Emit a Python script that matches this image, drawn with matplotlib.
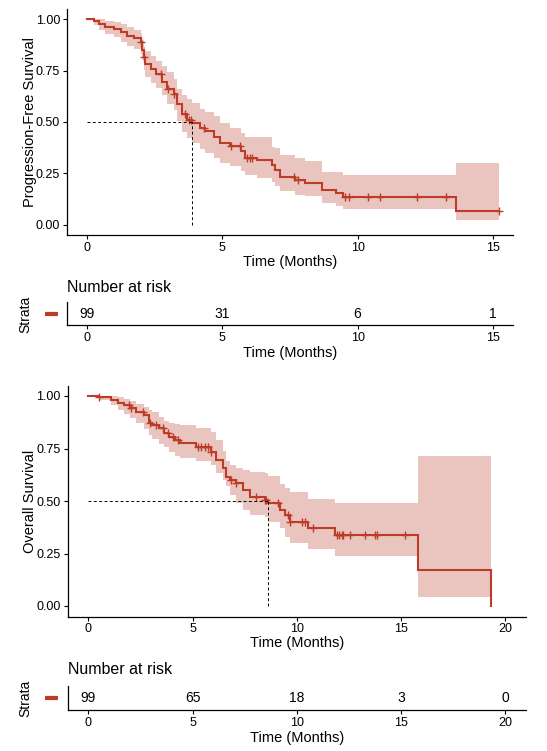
import matplotlib
matplotlib.use('Agg')
import matplotlib.pyplot as plt
import numpy as np

plt.rcParams['font.family'] = ['Liberation Sans', 'DejaVu Sans']

# ---------------- data ----------------
# Progression-free survival: step start times, survival, lower / upper CI
pfs_time = [0.00, 0.25, 0.43, 0.67, 0.98, 1.23, 1.47, 1.72, 1.97, 2.03, 2.09, 2.15,
            2.34, 2.55, 2.77, 2.95, 3.20, 3.32, 3.50, 3.69, 3.87, 4.18, 4.37, 4.67,
            4.92, 5.29, 5.67, 5.85, 6.27, 6.82, 6.95, 7.13, 7.69, 8.05, 8.67, 9.22,
            9.47, 13.65]
pfs_surv = [1.000, 0.990, 0.977, 0.964, 0.953, 0.937, 0.920, 0.909, 0.889, 0.850, 0.815, 0.783,
            0.758, 0.734, 0.693, 0.661, 0.637, 0.588, 0.540, 0.511, 0.494, 0.470, 0.454, 0.429,
            0.397, 0.381, 0.357, 0.324, 0.316, 0.292, 0.267, 0.232, 0.219, 0.203, 0.170, 0.154,
            0.135, 0.068]
pfs_lower = [1.000, 0.970, 0.950, 0.930, 0.912, 0.890, 0.870, 0.855, 0.830, 0.800, 0.755, 0.720,
             0.690, 0.665, 0.630, 0.590, 0.560, 0.505, 0.450, 0.420, 0.400, 0.370, 0.350, 0.325,
             0.300, 0.285, 0.260, 0.240, 0.225, 0.210, 0.190, 0.163, 0.146, 0.138, 0.105, 0.089,
             0.076, 0.021]
pfs_upper = [1.000, 1.000, 1.000, 0.990, 0.985, 0.975, 0.962, 0.950, 0.935, 0.900, 0.872, 0.847,
             0.823, 0.799, 0.774, 0.742, 0.710, 0.660, 0.630, 0.610, 0.591, 0.565, 0.551, 0.527,
             0.494, 0.470, 0.446, 0.429, 0.425, 0.380, 0.373, 0.340, 0.324, 0.308, 0.259, 0.259,
             0.243, 0.300]
pfs_end = 15.25
pfs_censor = [2.00, 2.10, 2.72, 2.97, 3.20, 3.63, 3.75, 3.85, 4.30, 5.30, 5.66, 5.92,
              6.03, 6.09, 7.63, 7.81, 9.53, 9.68, 10.39, 10.82, 12.18, 13.28, 15.25]
pfs_median = 3.87

# Overall survival
os_time = [0.00, 0.53, 1.09, 1.41, 1.73, 2.00, 2.29, 2.69, 2.93, 3.05, 3.41, 3.65,
           3.89, 4.15, 4.38, 5.18, 5.90, 6.14, 6.46, 6.62, 6.78, 7.10, 7.42, 7.74,
           8.46, 8.62, 9.18, 9.42, 9.66, 10.54, 11.83, 15.83]
os_surv = [1.000, 0.994, 0.981, 0.968, 0.957, 0.941, 0.925, 0.910, 0.870, 0.862, 0.846, 0.822,
           0.806, 0.790, 0.775, 0.756, 0.735, 0.695, 0.655, 0.616, 0.600, 0.584, 0.552, 0.520,
           0.505, 0.489, 0.457, 0.433, 0.401, 0.370, 0.338, 0.171]
os_lower = [1.000, 0.981, 0.955, 0.935, 0.915, 0.895, 0.870, 0.845, 0.815, 0.795, 0.770, 0.755,
            0.735, 0.715, 0.705, 0.690, 0.670, 0.635, 0.600, 0.570, 0.530, 0.490, 0.455, 0.435,
            0.425, 0.400, 0.370, 0.330, 0.300, 0.270, 0.238, 0.041]
os_upper = [1.000, 1.000, 1.000, 0.995, 0.985, 0.975, 0.960, 0.950, 0.935, 0.925, 0.900, 0.880,
            0.870, 0.865, 0.860, 0.850, 0.830, 0.790, 0.740, 0.690, 0.670, 0.655, 0.648, 0.640,
            0.635, 0.620, 0.580, 0.560, 0.545, 0.510, 0.489, 0.714]
os_end = 19.31
os_end_surv = 0.0
os_censor = [0.53, 1.97, 2.05, 2.61, 2.95, 3.25, 3.57, 3.81, 4.05, 4.29, 5.26, 5.42,
             5.58, 5.74, 5.90, 6.86, 7.10, 8.06, 8.46, 8.54, 9.10, 9.58, 9.66, 10.23,
             10.38, 10.78, 11.91, 12.04, 12.15, 12.23, 12.55, 13.27, 13.75, 13.86, 15.19]
os_median = 8.62

# Number at risk tables
pfs_risk_times = [0, 5, 10, 15]
pfs_risk = [99, 31, 6, 1]
os_risk_times = [0, 5, 10, 15, 20]
os_risk = [99, 65, 18, 3, 0]

RED = '#BC3C29'
W, H = 547, 751

fig = plt.figure(figsize=(W / 100, H / 100), dpi=100)
fig.patch.set_facecolor('white')


def px_axes(left, top, right, bottom):
    return fig.add_axes([left / W, 1 - bottom / H, (right - left) / W, (bottom - top) / H])


def style_axes(ax):
    for s in ['top', 'right']:
        ax.spines[s].set_visible(False)
    for s in ['left', 'bottom']:
        ax.spines[s].set_linewidth(0.9)
        ax.spines[s].set_color('black')
    ax.tick_params(direction='out', length=3, width=0.8, labelsize=9, pad=2, colors='black')
    ax.set_facecolor('white')


def draw_km(ax, t, s, lo, hi, end, end_s, cens, med, xlim, xticks):
    t = list(t)
    # CI band
    bx = t + [end]
    blo = list(lo) + [lo[-1]]
    bhi = list(hi) + [hi[-1]]
    ax.fill_between(bx, blo, bhi, step='post', color=RED, alpha=0.3, linewidth=0)
    # survival line
    lx = t + [end]
    ly = list(s) + [end_s]
    ax.step(lx, ly, where='post', color=RED, linewidth=1.5, solid_joinstyle='miter')
    # censor marks
    ta = np.array(t)
    sa = np.array(s)
    cy = [sa[np.searchsorted(ta, c, side='right') - 1] for c in cens]
    ax.plot(cens, cy, linestyle='none', marker='+', markersize=6, markeredgewidth=1.0, color=RED)
    # median lines
    ax.plot([0, med], [0.5, 0.5], color='black', linewidth=0.7, dashes=(3, 2.5))
    ax.plot([med, med], [0, 0.5], color='black', linewidth=0.7, dashes=(3, 2.5))
    ax.set_xlim(*xlim)
    ax.set_ylim(-0.05, 1.05)
    ax.set_xticks(xticks)
    ax.set_yticks([0, 0.25, 0.5, 0.75, 1.0])
    ax.set_yticklabels(['0.00', '0.25', '0.50', '0.75', '1.00'])
    style_axes(ax)


def draw_table(ax, times, nums, xlim, xticks):
    ax.set_xlim(*xlim)
    ax.set_ylim(0.5, 1.5)
    for tt, n in zip(times, nums):
        ax.text(tt, 1.0, str(n), ha='center', va='center', fontsize=10, color='black')
    ax.set_xticks(xticks)
    ax.set_yticks([])
    style_axes(ax)
    ax.plot([-0.049, -0.02], [0.5, 0.5], transform=ax.transAxes, color=RED,
            linewidth=3, clip_on=False, solid_capstyle='butt')


# --- top: PFS ---
ax1 = px_axes(67, 9, 513, 235)
draw_km(ax1, pfs_time, pfs_surv, pfs_lower, pfs_upper, pfs_end, pfs_surv[-1],
        pfs_censor, pfs_median, (-0.75, 15.75), [0, 5, 10, 15])
fig.text(30 / W, 1 - 122 / H, 'Progression-Free Survival', rotation=90, ha='center', va='center', fontsize=10.5)
fig.text(290 / W, 1 - 262 / H, 'Time (Months)', ha='center', va='center', fontsize=10.5)

tab1 = px_axes(67, 302, 513, 325)
draw_table(tab1, pfs_risk_times, pfs_risk, (-0.75, 15.75), [0, 5, 10, 15])
fig.text(67 / W, 1 - 287 / H, 'Number at risk', ha='left', va='center', fontsize=11.5)
fig.text(25 / W, 1 - 314 / H, 'Strata', rotation=90, ha='center', va='center', fontsize=10)
fig.text(290 / W, 1 - 353 / H, 'Time (Months)', ha='center', va='center', fontsize=10.5)

# --- bottom: OS ---
ax2 = px_axes(67.5, 385.5, 526, 616.5)
draw_km(ax2, os_time, os_surv, os_lower, os_upper, os_end, os_end_surv,
        os_censor, os_median, (-1, 21), [0, 5, 10, 15, 20])
fig.text(30 / W, 1 - 501 / H, 'Overall Survival', rotation=90, ha='center', va='center', fontsize=10.5)
fig.text(297 / W, 1 - 643 / H, 'Time (Months)', ha='center', va='center', fontsize=10.5)

tab2 = px_axes(67.5, 686, 526, 710)
draw_table(tab2, os_risk_times, os_risk, (-1, 21), [0, 5, 10, 15, 20])
fig.text(67.5 / W, 1 - 669 / H, 'Number at risk', ha='left', va='center', fontsize=11.5)
fig.text(25 / W, 1 - 698 / H, 'Strata', rotation=90, ha='center', va='center', fontsize=10)
fig.text(297 / W, 1 - 738 / H, 'Time (Months)', ha='center', va='center', fontsize=10.5)

fig.savefig('out.png', dpi=100, facecolor='white')
